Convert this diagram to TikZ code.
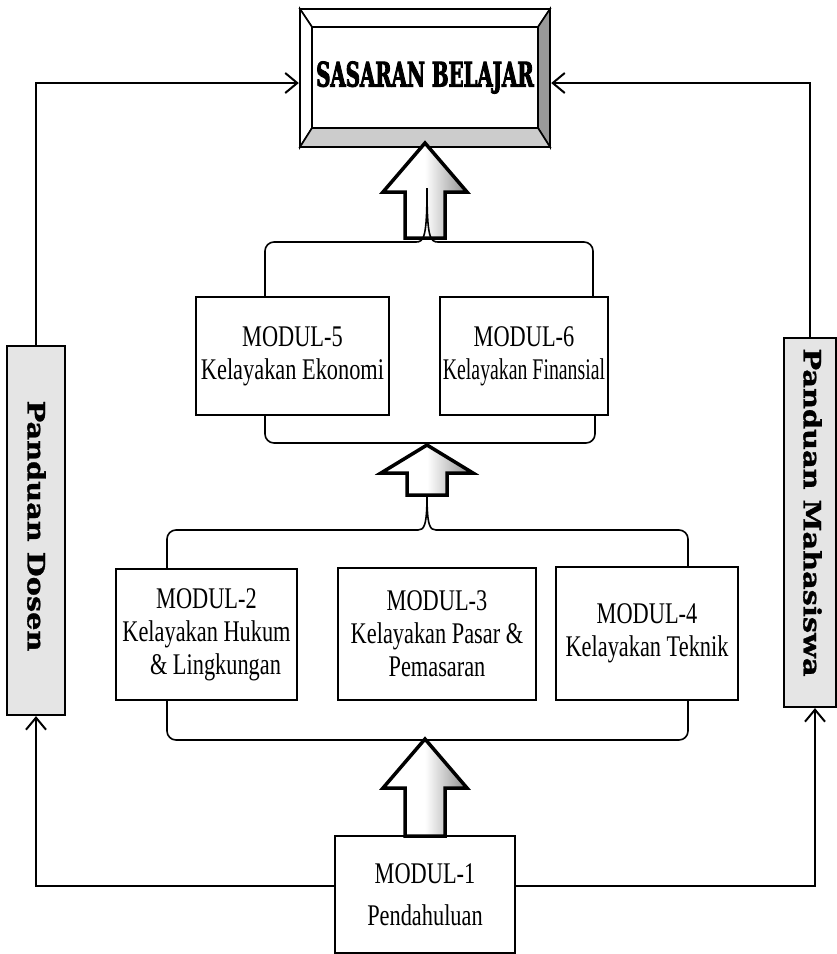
\documentclass[tikz,border=0pt]{standalone}
\usepackage{fontspec}
\setmainfont{Liberation Serif}
\newfontfamily\modfont[FakeStretch=0.745]{Liberation Serif}
\newfontfamily\modfontn[FakeStretch=0.66]{Liberation Serif}
\newfontfamily\goalfont[FakeStretch=0.58,FakeBold=2.5]{DejaVu Serif}
\newfontfamily\sidefont[FakeStretch=1.2,FakeBold=1.2]{DejaVu Serif}
\usetikzlibrary{arrows.meta,calc}
\tikzset{
  modbox/.style={draw, line width=2.2pt, fill=white, inner sep=0pt, align=center,
    font=\modfont\fontsize{30}{33}\selectfont},
  sidebox/.style={draw, line width=2.2pt, fill=black!10, inner sep=0pt},
  sidelabel/.style={rotate=-90, inner sep=0pt, font=\sidefont\bfseries\fontsize{24}{28}\selectfont},
  conn/.style={line width=2.4pt, -{Straight Barb[length=12pt,width=20pt,line width=2pt]}},
  brace/.style={line width=1.6pt},
  fatarr/.style={draw, line width=3.5pt, line join=miter, left color=white, right color=black!45, middle color=white},
  bevel/.style={draw, line width=1.6pt, line join=miter}
}
\newcommand\fatarrow[6]{% x, bottom y, head base y, tip y, shaft half, head half
  \path[fatarr] (#1-#5,#2) -- (#1-#5,#3) -- (#1-#6,#3) -- (#1,#4) -- (#1+#6,#3) -- (#1+#5,#3) -- (#1+#5,#2) -- cycle;}
\begin{document}
\begin{tikzpicture}[x=1pt,y=-1pt]
\clip (0,0) rectangle (837,954);
\fill[white] (0,0) rectangle (837,954);

% --- goal box with bevel ---
\path[bevel, fill=white] (300,9) -- (550,9) -- (538,27) -- (312,27) -- cycle;
\path[bevel, fill=white] (300,9) -- (312,27) -- (312,128) -- (300,147) -- cycle;
\path[bevel, fill=black!40] (550,9) -- (550,147) -- (538,128) -- (538,27) -- cycle;
\path[bevel, fill=black!20] (300,147) -- (312,128) -- (538,128) -- (550,147) -- cycle;
\node[draw, line width=2.4pt, minimum width=250pt, minimum height=138pt, inner sep=0pt] (goalframe) at (425,78) {};
\node[draw, line width=1.8pt, fill=white, minimum width=226pt, minimum height=101pt, inner sep=0pt,
      font=\goalfont\bfseries\fontsize{34}{40}\selectfont] (goal) at (425,77.5) {SASARAN BELAJAR};

% --- module boxes ---
\node[modbox, minimum width=193pt, minimum height=118pt] (m5) at (292.5,356) {MODUL-5\\Kelayakan Ekonomi};
\node[modbox, minimum width=168pt, minimum height=118pt] (m6) at (524,356) {MODUL-6\\{\modfontn Kelayakan Finansial}};
\node[modbox, minimum width=181pt, minimum height=131pt] (m2) at (206.5,634.5) {MODUL-2\\Kelayakan Hukum\\\hspace*{18pt}\& Lingkungan};
\node[modbox, minimum width=198pt, minimum height=132pt] (m3) at (437,634) {MODUL-3\\Kelayakan Pasar \&\\Pemasaran};
\node[modbox, minimum width=182pt, minimum height=133pt] (m4) at (647,633.5) {MODUL-4\\Kelayakan Teknik};
\node[modbox, minimum width=180pt, minimum height=117pt, font=\modfont\fontsize{30}{42}\selectfont] (m1) at (425,894.5) {MODUL-1\\Pendahuluan};

% --- side boxes ---
\node[sidebox, minimum width=58pt, minimum height=369pt] (dosen) at (36,530.5) {};
\node[sidelabel] (dosenlabel) at (36.5,526) {Panduan Dosen};
\node[sidebox, minimum width=52pt, minimum height=369pt] (maha) at (810,522.5) {};
\node[sidelabel] (mahalabel) at (812.5,512.5) {Panduan Mahasiswa};

% --- fat arrows ---
\fatarrow{425}{238}{192}{143}{20}{42}
\fatarrow{427}{495}{473}{445}{20}{46}
\fatarrow{425}{836}{788}{739}{20}{42}

% --- braces, upper group (M5, M6) ---
\draw[brace, rounded corners=9pt] (265,297) -- (265,242) -- (416,242);
\draw[brace] (416,242) .. controls (424,242) and (427,237) .. (427,188);
\draw[brace, rounded corners=9pt] (593,297) -- (593,242) -- (438,242);
\draw[brace] (438,242) .. controls (430,242) and (427,237) .. (427,188);
\draw[brace, rounded corners=9pt] (265,415) -- (265,443) -- (595,443) -- (595,415);

% --- braces, lower group (M2, M3, M4) ---
\draw[brace, rounded corners=9pt] (167,569) -- (167,530) -- (418,530);
\draw[brace] (418,530) .. controls (424,530) and (427,526) .. (427,495);
\draw[brace, rounded corners=9pt] (688,567) -- (688,530) -- (436,530);
\draw[brace] (436,530) .. controls (430,530) and (427,526) .. (427,495);
\draw[brace, rounded corners=9pt] (167,700) -- (167,740) -- (688,740) -- (688,700);

% --- connectors ---
\draw[conn] (dosen.north) |- ($(goalframe.west)+(0,5)$);
\draw[conn] (maha.north) |- ($(goalframe.east)+(0,5)$);
\draw[conn] ([yshift=8.5pt]m1.west) -| (dosen.south);
\draw[conn] ([yshift=8.5pt]m1.east) -| ([xshift=5pt]maha.south);
\end{tikzpicture}
\end{document}
